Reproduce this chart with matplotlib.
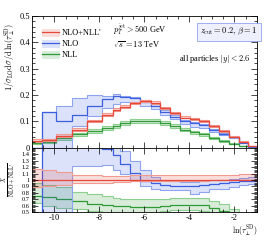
import numpy as np
from matplotlib import pyplot as plt
from matplotlib.patches import Patch
from matplotlib.lines import Line2D
from matplotlib.ticker import MultipleLocator

plt.rcParams["font.family"] = ["Liberation Serif", "DejaVu Serif"]
plt.rcParams["mathtext.fontset"] = "cm"
plt.rcParams["font.size"] = 6

# bin edges in ln(tau)
edges = [-11.0, -10.57, -9.95, -9.24, -8.57, -7.90, -7.40, -7.09, -6.64, -6.18, -5.73,
         -5.31, -4.87, -4.42, -3.98, -3.56, -3.13, -2.69, -2.24, -1.80, -1.40, -1.0]

# top panel: 1/sigma_LO dsigma/dln(tau)
matched = [0.025, 0.027, 0.044, 0.068, 0.100, 0.124, 0.143, 0.156, 0.168, 0.176, 0.170,
           0.149, 0.130, 0.114, 0.107, 0.100, 0.081, 0.062, 0.041, 0.022, 0.006]
matched_up = [0.031, 0.033, 0.050, 0.074, 0.106, 0.130, 0.149, 0.162, 0.174, 0.182, 0.176,
              0.155, 0.136, 0.120, 0.113, 0.106, 0.086, 0.066, 0.044, 0.024, 0.007]
matched_lo = [0.022, 0.024, 0.041, 0.065, 0.097, 0.120, 0.139, 0.152, 0.165, 0.173, 0.167,
              0.146, 0.128, 0.113, 0.106, 0.099, 0.080, 0.061, 0.040, 0.021, 0.005]

nlo = [0.0, 0.135, 0.100, 0.124, 0.160, 0.184, 0.197, 0.193, 0.187, 0.174, 0.159,
       0.137, 0.118, 0.102, 0.095, 0.087, 0.068, 0.053, 0.040, 0.019, 0.003]
nlo_up = [0.0, 0.137, 0.160, 0.190, 0.200, 0.198, 0.203, 0.198, 0.192, 0.180, 0.165,
          0.142, 0.123, 0.106, 0.099, 0.090, 0.071, 0.056, 0.042, 0.021, 0.004]
nlo_lo = [0.0, 0.0, 0.0, 0.083, 0.122, 0.151, 0.164, 0.175, 0.170, 0.158, 0.145,
          0.125, 0.108, 0.090, 0.080, 0.076, 0.060, 0.047, 0.036, 0.017, 0.002]

nll = [0.018, 0.022, 0.035, 0.050, 0.062, 0.075, 0.081, 0.093, 0.100, 0.102, 0.100,
       0.093, 0.081, 0.068, 0.058, 0.050, 0.037, 0.025, 0.015, 0.006, 0.001]
nll_up = [0.022, 0.027, 0.041, 0.057, 0.069, 0.082, 0.088, 0.100, 0.107, 0.109, 0.107,
          0.100, 0.088, 0.074, 0.064, 0.055, 0.041, 0.028, 0.017, 0.007, 0.001]
nll_lo = [0.015, 0.018, 0.030, 0.044, 0.055, 0.068, 0.074, 0.086, 0.093, 0.095, 0.093,
          0.086, 0.075, 0.062, 0.053, 0.045, 0.033, 0.022, 0.013, 0.005, 0.0]

# bottom panel: ratio to NLO+NLL'
matched_r = [1.0] * 21
matched_r_up = [1.17, 1.15, 1.12, 1.08, 1.07, 1.06, 1.06, 1.06, 1.07, 1.07, 1.07,
                1.07, 1.07, 1.07, 1.08, 1.08, 1.08, 1.08, 1.08, 1.09, 1.10]
matched_r_lo = [0.89, 0.91, 0.93, 0.95, 0.96, 0.96, 0.97, 0.97, 0.98, 0.98, 0.98,
                0.98, 0.99, 0.99, 0.99, 0.99, 1.00, 1.00, 1.00, 1.00, 1.00]

nlo_r = [-1.0, 2.0, 2.0, 2.0, 1.6, 1.48, 1.38, 1.24, 1.11, 0.99, 0.95,
         0.92, 0.91, 0.90, 0.90, 0.92, 0.94, 0.96, 0.97, 0.98, 0.98]
nlo_r_up = [np.nan, 3.0, 3.0, 3.0, 3.0, 3.0, 1.60, 1.45, 1.30, 1.15, 1.05,
            1.00, 0.98, 0.97, 0.97, 0.99, 1.00, 1.00, 1.01, 1.03, 1.05]
nlo_r_lo = [np.nan, 0.0, 0.0, 1.22, 1.22, 1.23, 1.15, 1.10, 1.00, 0.90, 0.86,
            0.84, 0.84, 0.84, 0.79, 0.82, 0.86, 0.86, 0.89, 0.92, 0.94]

nll_r = [0.76, 0.74, 0.70, 0.67, 0.63, 0.61, 0.60, 0.60, 0.59, 0.59, 0.59,
         0.60, 0.61, 0.61, 0.62, 0.62, 0.57, 0.52, 0.45, 0.30, 0.10]
nll_r_up = [0.96, 0.93, 0.89, 0.82, 0.78, 0.75, 0.72, 0.70, 0.70, 0.70, 0.70,
            0.71, 0.72, 0.72, 0.72, 0.72, 0.68, 0.63, 0.55, 0.40, 0.20]
nll_r_lo = [0.65, 0.60, 0.57, 0.55, 0.52, 0.51, 0.50, 0.50, 0.50, 0.50, 0.51,
            0.52, 0.53, 0.53, 0.53, 0.52, 0.48, 0.44, 0.38, 0.25, 0.05]

RED = "#e8483a"
BLUE = "#3c5fe0"
GREEN = "#2f9a36"
RED_L = "#f09a90"
BLUE_L = "#8fa4f0"
GREEN_L = "#8ccf8f"


def draw_curve(ax, val, up, lo, color, light):
    ax.stairs(up, edges, baseline=lo, fill=True, color=color, alpha=0.18, lw=0)
    ax.stairs(up, edges, baseline=None, color=light, lw=0.8)
    ax.stairs(lo, edges, baseline=None, color=light, lw=0.8)
    ax.stairs(val, edges, baseline=None, color=color, lw=0.9)


def style_axis(ax):
    ax.tick_params(which="both", direction="in", top=True, right=True, labelsize=6, pad=1.5)
    ax.tick_params(which="major", length=4, width=0.5)
    ax.tick_params(which="minor", length=2, width=0.5)
    for s in ax.spines.values():
        s.set_linewidth(0.6)
    ax.xaxis.set_major_locator(MultipleLocator(2))
    ax.xaxis.set_minor_locator(MultipleLocator(0.5))
    ax.set_xlim(-11, -1)


fig = plt.figure(figsize=(2.66, 2.4), dpi=100)
ax1 = fig.add_axes([0.12, 0.385, 0.846, 0.548])
ax2 = fig.add_axes([0.12, 0.115, 0.846, 0.27])

draw_curve(ax1, nll, nll_up, nll_lo, GREEN, GREEN_L)
draw_curve(ax1, nlo, nlo_up, nlo_lo, BLUE, BLUE_L)
draw_curve(ax1, matched, matched_up, matched_lo, RED, RED_L)
style_axis(ax1)
ax1.set_ylim(0, 0.5)
ax1.yaxis.set_minor_locator(MultipleLocator(0.02))
ax1.set_yticks([0, 0.1, 0.2, 0.3, 0.4, 0.5])
ax1.set_yticklabels(["0", "0.1", "0.2", "0.3", "0.4", "0.5"])
ax1.tick_params(labelbottom=False)
ax1.set_ylabel(r"$1/\sigma_{\rm LO}{\rm d}\sigma/{\rm d}\,\ln(\tau_\perp^{\rm SD})$", fontsize=6)
ax1.yaxis.set_label_coords(-0.06, 0.69)

draw_curve(ax2, nll_r, nll_r_up, nll_r_lo, GREEN, GREEN_L)
draw_curve(ax2, nlo_r, nlo_r_up, nlo_r_lo, BLUE, BLUE_L)
draw_curve(ax2, matched_r, matched_r_up, matched_r_lo, RED, RED_L)
style_axis(ax2)
ax2.set_ylim(0.5, 1.5)
ax2.yaxis.set_minor_locator(MultipleLocator(0.02))
ax2.set_yticks([0.5, 0.6, 0.7, 0.8, 0.9, 1.0, 1.1, 1.2, 1.3, 1.4])
ax2.set_yticklabels(["0.5", "0.6", "0.7", "0.8", "0.9", "1", "1.1", "1.2", "1.3", "1.4"])
ax2.tick_params(axis="y", labelsize=4.6)
ax2.set_xticks([-10, -8, -6, -4, -2])
ax2.set_xticklabels(["-10", "-8", "-6", "-4", "-2"])
ax2.set_ylabel(r"$\frac{X}{\rm NLO+NLL'}$", fontsize=6)
ax2.yaxis.set_label_coords(-0.06, 0.5)
ax2.text(1.0, -0.17, r"$\ln(\tau_\perp^{\rm SD})$", transform=ax2.transAxes,
         ha="right", va="top", fontsize=5.6)

handles = []
for c, l in [(RED, RED_L), (BLUE, BLUE_L), (GREEN, GREEN_L)]:
    handles.append((Patch(facecolor=c, alpha=0.18, edgecolor=l, lw=0.8), Line2D([], [], color=c, lw=0.9)))
ax1.legend(handles, ["NLO+NLL'", "NLO", "NLL"], loc="upper left", bbox_to_anchor=(0.045, 0.9),
           frameon=False, fontsize=6, handlelength=2.0, handleheight=0.8, labelspacing=0.35,
           handletextpad=0.4, borderaxespad=0, borderpad=0)

ax1.text(0.36, 0.87, r"$p_T^{\rm jet} > 500$ GeV", transform=ax1.transAxes, fontsize=6)
ax1.text(0.36, 0.755, r"$\sqrt{s} = 13$ TeV", transform=ax1.transAxes, fontsize=6)
ax1.text(0.875, 0.88, r"$z_{\rm cut} = 0.2,\, \beta = 1$", transform=ax1.transAxes, fontsize=6,
         ha="center", va="center",
         bbox=dict(boxstyle="square,pad=0.4", facecolor="#eef0fb", edgecolor=BLUE_L, lw=0.6))
ax1.text(0.97, 0.66, r"all particles $|y| < 2.6$", transform=ax1.transAxes, fontsize=6, ha="right")

fig.savefig("out.png", dpi=100)
